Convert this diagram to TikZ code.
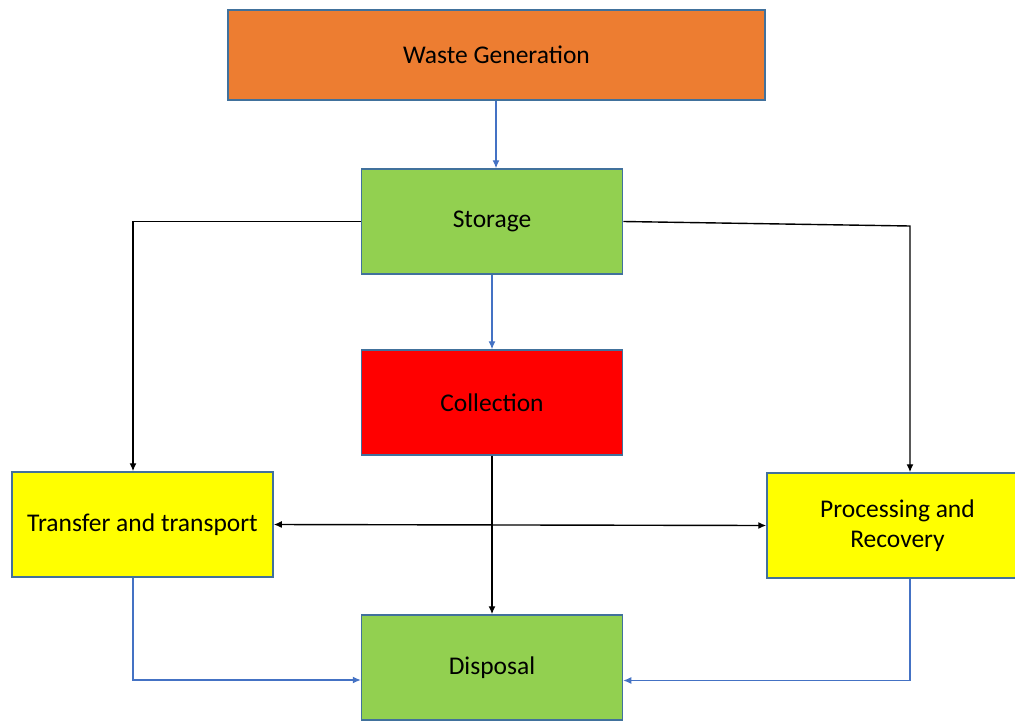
\documentclass[tikz,border=0pt]{standalone}
\usepackage{fontspec}
\setmainfont{Carlito}
\usetikzlibrary{arrows.meta}
\definecolor{boxline}{HTML}{41719C}
\definecolor{flowblue}{HTML}{4472C4}
\definecolor{genorange}{HTML}{ED7D31}
\definecolor{stagegreen}{HTML}{92D050}
\definecolor{stageyellow}{RGB}{255,255,0}
\definecolor{stagered}{RGB}{255,0,0}
\tikzset{
  stagebox/.style={draw=boxline, line width=0.75pt, minimum width=130.5pt, minimum height=52.5pt, align=center, font=\fontsize{12.75}{15}\selectfont},
  blueflow/.style={draw=flowblue, line width=0.6pt, -{Latex[length=4pt,width=3.5pt]}},
  blackflow/.style={draw=black, line width=0.7pt, -{Latex[length=4pt,width=3.5pt]}}
}
\begin{document}
\begin{tikzpicture}[x=0.5pt, y=-0.5pt]
  \useasboundingbox (0,0) rectangle (1015,722);
  \node[stagebox, fill=genorange, minimum width=268.5pt, minimum height=45pt] (gen) at (496.5, 55) {Waste Generation};
  \node[stagebox, fill=stagegreen] (storage) at (492, 221.5) {Storage};
  \node[stagebox, fill=stagered] (collection) at (492, 402.5) {Collection};
  \node[stagebox, fill=stageyellow] (transfer) at (142.5, 524.5) {Transfer and transport};
  \node[stagebox, fill=stageyellow] (processing) at (897.5, 525.5) {Processing and\\Recovery};
  \node[stagebox, fill=stagegreen] (disposal) at (492, 667.5) {Disposal};

  % main flow
  \draw[blueflow] (gen.south -| 496,0) -- (storage.north -| 496,0);
  \draw[blueflow] (storage) -- (collection);
  \draw[blackflow] (collection) -- (disposal);

  % branches from storage
  \draw[blackflow] (storage.west) -| ([xshift=-4.75pt]transfer.north);
  \coordinate (kR) at (910, 226);
  \draw[blackflow] (storage.east) -- (kR) -- (kR |- processing.north);
  \draw[blackflow, {Latex[length=4pt,width=3.5pt]}-{Latex[length=4pt,width=3.5pt]}] (transfer.east) -- (processing.west);

  % to disposal
  \draw[blueflow] ([xshift=-4.75pt]transfer.south) |- ([yshift=-6.25pt]disposal.west);
  \draw[blueflow] ([xshift=6.25pt]processing.south) |- ([yshift=-6.5pt]disposal.east);
\end{tikzpicture}
\end{document}
